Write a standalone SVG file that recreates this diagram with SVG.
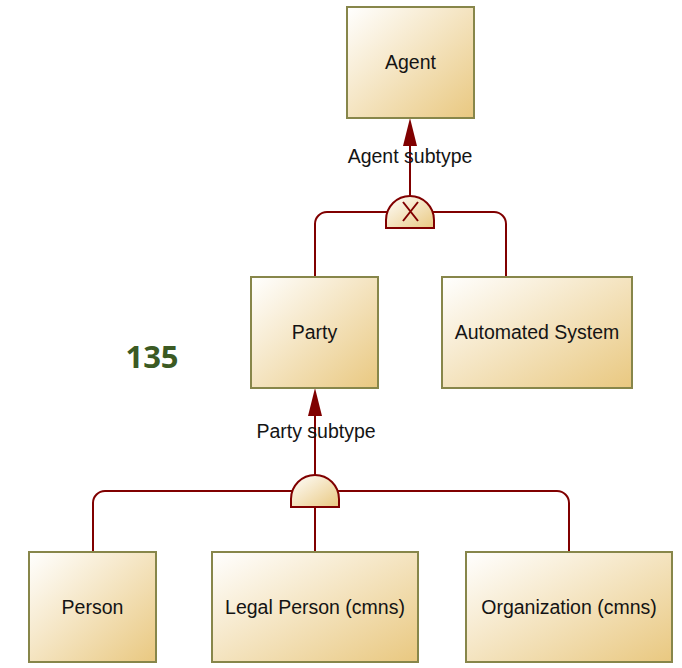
<svg xmlns="http://www.w3.org/2000/svg" width="682" height="668" viewBox="0 0 682 668">
<defs>
<linearGradient id="bg" x1="0" y1="0" x2="1" y2="1">
<stop offset="0" stop-color="#ffffff"/>
<stop offset="1" stop-color="#e9c880"/>
</linearGradient>
</defs>
<style>
.box{fill:url(#bg);stroke:#87864a;stroke-width:2}
.lbl{font-family:"Liberation Sans",Arial,sans-serif;font-size:19.5px;fill:#141414;text-anchor:middle}
.ln{fill:none;stroke:#800000;stroke-width:2}
.gate{fill:url(#bg);stroke:#800000;stroke-width:2}
.head{fill:#800000}
</style>
<rect width="682" height="668" fill="#ffffff"/>
<g id="connectors">
<path class="ln" d="M315,277 V224 A12,12 0 0 1 327,212 H494 A12,12 0 0 1 506,224 V277"/>
<path class="ln" d="M410,196 V146"/>
<path class="head" d="M410,118 L417,146 L403,146 Z"/>
<path class="ln" d="M93,552 V503 A12,12 0 0 1 105,491 H557 A12,12 0 0 1 569,503 V552"/>
<path class="ln" d="M315,552 V507"/>
<path class="ln" d="M315,475 V416"/>
<path class="head" d="M315,388 L322,416 L308,416 Z"/>
</g>
<g id="gate-agent-subtype">
<path class="gate" d="M386,228 V220 A24,24 0 0 1 434,220 V228 Z"/>
<path class="ln" d="M403,202 L418,221 M418,202 L403,221"/>
<text class="lbl" x="410" y="163">Agent subtype</text>
</g>
<g id="gate-party-subtype">
<path class="gate" d="M291,507 V499 A24,24 0 0 1 339,499 V507 Z"/>
<text class="lbl" x="316" y="438">Party subtype</text>
</g>
<g id="agent">
<rect class="box" x="347" y="7" width="127" height="111"/>
<text class="lbl" x="410.5" y="69">Agent</text>
</g>
<g id="party">
<rect class="box" x="251" y="277" width="127" height="111"/>
<text class="lbl" x="314.5" y="339">Party</text>
</g>
<g id="automated-system">
<rect class="box" x="442" y="277" width="190" height="111"/>
<text class="lbl" x="537" y="339">Automated System</text>
</g>
<g id="person">
<rect class="box" x="29" y="552" width="127" height="110"/>
<text class="lbl" x="92.5" y="614">Person</text>
</g>
<g id="legal-person">
<rect class="box" x="212" y="552" width="206" height="110"/>
<text class="lbl" x="315" y="614">Legal Person (cmns)</text>
</g>
<g id="organization">
<rect class="box" x="466" y="552" width="206" height="110"/>
<text class="lbl" x="569" y="614">Organization (cmns)</text>
</g>
<g id="page-number">
<text x="152" y="368" font-family="'Open Sans','Liberation Sans',sans-serif" font-weight="bold" font-size="31" fill="#3b5a23" text-anchor="middle">135</text>
</g>
</svg>
